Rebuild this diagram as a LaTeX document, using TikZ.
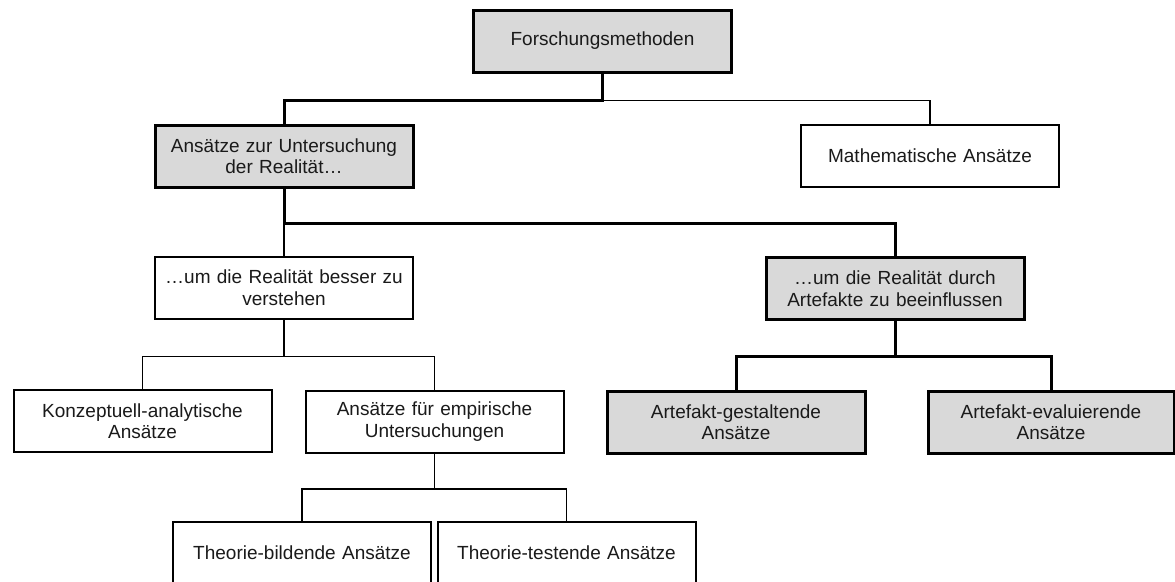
\documentclass[tikz,border=0pt]{standalone}
\usepackage{fontspec}
\setmainfont{Liberation Sans}
\definecolor{boxgray}{HTML}{D9D9D9}
\definecolor{inkcol}{HTML}{1A1A1A}
\begin{document}
\begin{tikzpicture}[x=1pt,y=-1pt,
  plainbox/.style={draw=black, line width=2pt, fill=white, text=inkcol,
    minimum width=258pt, minimum height=62pt, inner sep=0pt,
    text width=254pt, align=center,
    font=\fontsize{19}{21.5}\selectfont},
  shadedbox/.style={plainbox, line width=3pt, fill=boxgray},
  thinlink/.style={draw=black, line width=1.2pt},
  thicklink/.style={draw=black, line width=3pt}]
\useasboundingbox (0,0) rectangle (1175,581);
\clip (0,0) rectangle (1175,581);

% level 0
\node[shadedbox] (fm) at (602.5,41) {Forschungsmethoden};
% level 1
\node[shadedbox] (ans) at (284,156) {Ansätze zur Untersuchung\\der Realität…};
\node[plainbox]  (mat) at (930,155.5) {Mathematische Ansätze};
% level 2
\node[plainbox]  (bes) at (284,287.5) {…um die Realität besser zu\\verstehen};
\node[shadedbox] (dur) at (895,288.5) {…um die Realität durch\\Artefakte zu beeinflussen};
% level 3
\node[plainbox]  (kon) at (142.5,421) {Konzeptuell-analytische\\Ansätze};
\node[plainbox]  (emp) at (434.5,421.5) {Ansätze für empirische\\Untersuchungen};
\node[shadedbox] (ges) at (736,422) {Artefakt-gestaltende\\Ansätze};
\node[shadedbox, minimum width=246pt, text width=242pt] (eva) at (1051,422) {Artefakt-evaluierende\\Ansätze};
% level 4
\node[plainbox]  (tbi) at (302,553) {Theorie-bildende Ansätze};
\node[plainbox]  (tte) at (566.5,553) {Theorie-testende Ansätze};

% connectors
\draw[thinlink]  (fm.south) ++(0,27) -| (mat.north);
\draw[thicklink] (fm.south) -- ++(0,27) -| (ans.north);

\draw[thinlink]  (ans.south) ++(0,34.5) -- (bes.north);
\draw[thicklink] (ans.south) -- ++(0,34.5) -| (dur.north);

\draw[thinlink]  (bes.south) -- ++(0,37) -| (kon.north);
\draw[thinlink]  (bes.south) ++(0,37) -| (emp.north);

\draw[thicklink] (dur.south) -- ++(0,35.5) -| (ges.north);
\draw[thicklink] (dur.south) ++(0,35.5) -| (eva.north);

\draw[thinlink]  (emp.south) -- ++(0,35.5) -| (tbi.north);
\draw[thinlink]  (emp.south) ++(0,35.5) -| (tte.north);
\end{tikzpicture}
\end{document}
